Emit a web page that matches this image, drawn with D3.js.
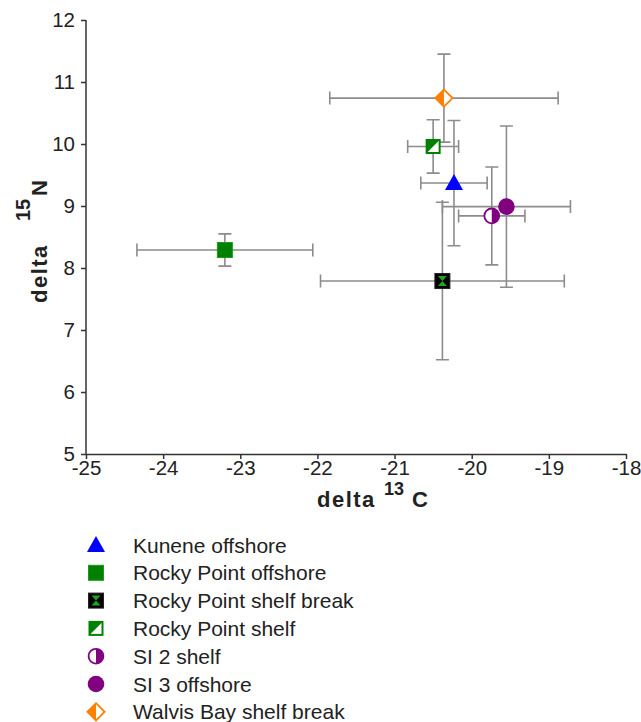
<!DOCTYPE html>
<html><head><meta charset="utf-8">
<script src="https://cdn.jsdelivr.net/npm/d3@7"></script>
<style>
body{margin:0;background:#fff;}
text{font-family:"Liberation Sans",Arial,sans-serif;}
</style></head>
<body><svg id="chart" width="641" height="722"></svg>
<script>
const seriesNames = ["Kunene offshore","Rocky Point offshore","Rocky Point shelf break","Rocky Point shelf","SI 2 shelf","SI 3 offshore","Walvis Bay shelf break"];
const d13C = [-20.23,-23.20,-20.38,-20.50,-19.74,-19.55,-20.36];
const d15N = [9.37,8.29,7.79,9.96,8.84,8.99,10.74];
const d13CErr = [0.43,1.14,1.58,0.33,0.43,0.83,1.48];
const d15NErr = [1.01,0.26,1.27,0.43,0.79,1.30,0.71];
const markerTypes = ["triangle","square","hourglass","halfsquare","halfcircle","circle","halfdiamond"];
const markerColors = ["#0000ff","#008000","#008000","#008000","#800080","#800080","#ff8000"];
const xTicks = [-25,-24,-23,-22,-21,-20,-19,-18];
const yTicks = [5,6,7,8,9,10,11,12];

const svg = d3.select("#chart");
const x = d3.scaleLinear().domain([-25,-18]).range([86,626]);
const y = d3.scaleLinear().domain([5,12]).range([454,20]);
const fs = 20.5;
const fmt = d => String(d);

// axes
const xAxis = svg.append("g").attr("transform","translate(0,454)")
  .call(d3.axisBottom(x).tickValues(xTicks).tickFormat(fmt).tickSize(5).tickPadding(1).tickSizeOuter(0));
const yAxis = svg.append("g").attr("transform","translate(86,0)")
  .call(d3.axisLeft(y).tickValues(yTicks).tickFormat(fmt).tickSize(5).tickPadding(6).tickSizeOuter(0));
[xAxis,yAxis].forEach(a=>{
  a.select(".domain").attr("stroke","#333").attr("stroke-width",1.5);
  a.selectAll(".tick line").attr("stroke","#333").attr("stroke-width",1.5);
  a.selectAll(".tick text").attr("fill","#222").style("font-size",fs+"px").style("font-family","'Liberation Sans',Arial,sans-serif");
});
yAxis.select(".domain").attr("d","M0,20V454");

// axis titles
const xt = svg.append("text").attr("y",507)
  .attr("font-weight","bold").attr("fill","#222").style("font-size","22px");
xt.append("tspan").attr("x",317).style("letter-spacing","1.5px").text("delta");
xt.append("tspan").attr("x",384).attr("dy",-12).style("font-size","18px").text("13");
xt.append("tspan").attr("x",412).attr("dy",12).text("C");

const yt = svg.append("text").attr("transform","translate(47,0) rotate(-90)")
  .attr("font-weight","bold").attr("fill","#222").style("font-size","22px");
yt.append("tspan").attr("x",-303).style("letter-spacing","1.5px").text("delta");
yt.append("tspan").attr("x",-221).attr("dy",-17).style("font-size","20px").text("15");
yt.append("tspan").attr("x",-196).attr("dy",17).text("N");

// error bars
const cap = 6.5;
const eb = svg.append("g").attr("stroke","#8c8c8c").attr("stroke-width",1.6).attr("fill","none");
d13C.forEach((cx,i)=>{
  const px = x(cx), py = y(d15N[i]);
  const x0 = x(cx-d13CErr[i]), x1 = x(cx+d13CErr[i]);
  const y0 = y(d15N[i]+d15NErr[i]), y1 = y(d15N[i]-d15NErr[i]);
  eb.append("path").attr("d",`M${x0},${py}H${x1}M${x0},${py-cap}V${py+cap}M${x1},${py-cap}V${py+cap}`);
  eb.append("path").attr("d",`M${px},${y0}V${y1}M${px-cap},${y0}H${px+cap}M${px-cap},${y1}H${px+cap}`);
});

function marker(g, type, color){
  const s = 7.5;
  if(type==="triangle"){
    g.append("path").attr("d","M0,-9L9,7L-9,7Z").attr("fill",color);
  } else if(type==="square"){
    g.append("rect").attr("x",-s).attr("y",-s).attr("width",2*s).attr("height",2*s)
      .attr("fill",color).attr("stroke","#1a9a1a").attr("stroke-width",1);
  } else if(type==="hourglass"){
    g.append("rect").attr("x",-s).attr("y",-s).attr("width",2*s).attr("height",2*s)
      .attr("fill","#000").attr("stroke","#222").attr("stroke-width",1);
    g.append("path").attr("d",`M-4.5,-5H4.5L0,0ZM-4.5,5H4.5L0,0Z`).attr("fill","#1fa51f");
  } else if(type==="halfsquare"){
    g.append("rect").attr("x",-s+1).attr("y",-s+1).attr("width",2*s-2).attr("height",2*s-2)
      .attr("fill","#fff").attr("stroke",color).attr("stroke-width",2);
    g.append("path").attr("d",`M${-s+1},${-s+1}H${s-1}L${-s+1},${s-1}Z`).attr("fill",color);
  } else if(type==="circle"){
    g.append("circle").attr("r",8.3).attr("fill",color);
  } else if(type==="halfcircle"){
    g.append("circle").attr("r",7.4).attr("fill","#fff").attr("stroke",color).attr("stroke-width",1.8);
    g.append("path").attr("d","M0,-7.4A7.4,7.4 0 0 1 0,7.4Z").attr("fill",color);
  } else if(type==="halfdiamond"){
    g.append("path").attr("d","M0,-8.6L8.6,0L0,8.6L-8.6,0Z").attr("fill","#fff").attr("stroke",color).attr("stroke-width",1.8);
    g.append("path").attr("d","M0,-8.6L-8.6,0L0,8.6Z").attr("fill",color);
  }
}

// markers
d13C.forEach((cx,i)=>{
  const g = svg.append("g").attr("transform",`translate(${x(cx)},${y(d15N[i])})`);
  marker(g, markerTypes[i], markerColors[i]);
});

// legend
const lg = svg.append("g");
seriesNames.forEach((n,i)=>{
  const ry = 545 + i*27.8;
  const g = lg.append("g").attr("transform",`translate(96,${ry})`);
  marker(g, markerTypes[i], markerColors[i]);
  lg.append("text").attr("x",133).attr("y",ry).attr("dy","0.36em").attr("fill","#222")
    .style("font-size","21px").text(n);
});
</script></body></html>
